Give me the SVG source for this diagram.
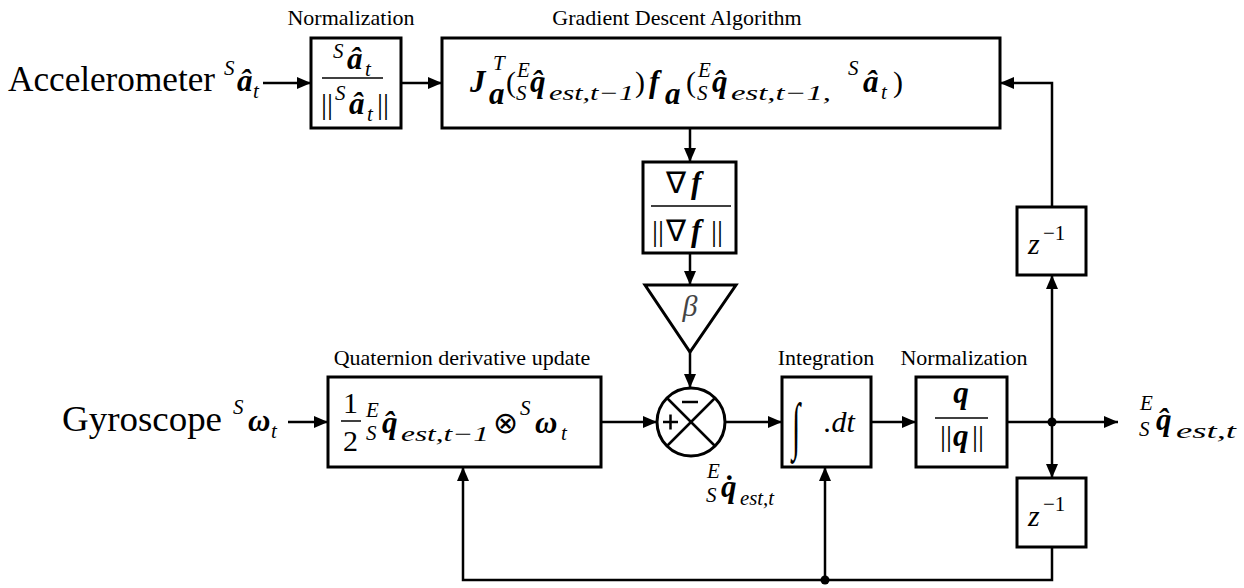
<svg xmlns="http://www.w3.org/2000/svg" width="1244" height="588" viewBox="0 0 1244 588" font-family="Liberation Serif, serif">
  <style>
    .box { fill: #fff; stroke: #000; stroke-width: 3; }
    .wire { fill: none; stroke: #000; stroke-width: 2.5; }
    .bar { stroke: #000; stroke-width: 1.5; }
    text { fill: #000; font-family: "Liberation Serif", serif; }
    .lbl { font-size: 22px; text-anchor: middle; }
    .big { font-size: 36px; }
    .m { font-size: 30px; font-style: italic; }
    .r { font-size: 30px; }
    .b { font-size: 31px; font-style: italic; font-weight: bold; }
    .s { font-size: 21px; font-style: italic; }
    .sr { font-size: 21px; }
  </style>
  <defs>
    <marker id="arrow" markerUnits="userSpaceOnUse" markerWidth="14" markerHeight="12" viewBox="0 0 14 12" refX="14" refY="6" orient="auto">
      <path d="M0,0 L14,6 L0,12 z" fill="#000"/>
    </marker>
  </defs>

  <!-- signal inputs -->
  <g id="accel-input">
    <text class="big" x="8" y="91" textLength="207" lengthAdjust="spacingAndGlyphs">Accelerometer</text>
    <text class="s" x="224" y="75">S</text>
    <text class="b" x="237" y="91">&#xE2;</text>
    <text class="s" x="253" y="98">t</text>
  </g>
  <g id="gyro-input">
    <text class="big" x="62" y="431" textLength="160" lengthAdjust="spacingAndGlyphs">Gyroscope</text>
    <text class="s" x="233" y="414">S</text>
    <text class="b" x="248" y="431">ω</text>
    <text class="s" x="271" y="438">t</text>
  </g>

  <!-- accelerometer normalisation -->
  <g id="acc-norm">
    <text class="lbl" x="351" y="25">Normalization</text>
    <rect class="box" x="311" y="38" width="90" height="90"/>
    <text class="s" x="333" y="58">S</text>
    <text class="b" x="347" y="69">&#xE2;</text>
    <text class="s" x="365" y="76">t</text>
    <line class="bar" x1="322" y1="78" x2="383" y2="78"/>
    <text class="r" x="321" y="114">||</text>
    <text class="s" x="335" y="100">S</text>
    <text class="b" x="349" y="114">&#xE2;</text>
    <text class="s" x="367" y="121">t</text>
    <text class="r" x="377" y="114">||</text>
  </g>

  <!-- gradient descent step -->
  <g id="gradient">
    <text class="lbl" x="677" y="25">Gradient Descent Algorithm</text>
    <rect class="box" x="442" y="38" width="558" height="90"/>
    <text class="b" x="470" y="92">J</text>
    <text class="s" x="493" y="70">T</text>
    <text class="b" x="489" y="104" font-size="20">a</text>
    <text class="r" x="506" y="92">(</text>
    <text class="s" x="517" y="77">E</text>
    <text class="s" x="516" y="100">S</text>
    <text class="b" x="530" y="92">q&#x302;</text>
    <text class="s" x="549" y="100" textLength="85" lengthAdjust="spacingAndGlyphs">est,t−1</text>
    <text class="r" x="635" y="92">)</text>
    <text class="b" x="649" y="92">f</text>
    <text class="b" x="665" y="104" font-size="20">a</text>
    <text class="r" x="686" y="92">(</text>
    <text class="s" x="698" y="77">E</text>
    <text class="s" x="697" y="100">S</text>
    <text class="b" x="712" y="92">q&#x302;</text>
    <text class="s" x="731" y="100" textLength="100" lengthAdjust="spacingAndGlyphs">est,t−1,</text>
    <text class="s" x="848" y="75">S</text>
    <text class="b" x="863" y="92">&#xE2;</text>
    <text class="s" x="881" y="99">t</text>
    <text class="r" x="893" y="92">)</text>
  </g>

  <!-- normalised gradient -->
  <g id="grad-norm">
    <rect class="box" x="643" y="162" width="93" height="91"/>
    <text class="r" x="666" y="193">∇</text>
    <text class="b" x="691" y="193">f</text>
    <line class="bar" x1="651" y1="206" x2="731" y2="206"/>
    <text class="r" x="652" y="241">||</text>
    <text class="r" x="666" y="241">∇</text>
    <text class="b" x="691" y="241">f</text>
    <text class="r" x="711" y="241">||</text>
  </g>

  <!-- gain -->
  <g id="beta">
    <polygon class="box" points="645,285 736,285 690,352"/>
    <text class="m" x="690" y="316" text-anchor="middle" style="fill:#444">β</text>
  </g>

  <!-- quaternion rate from gyroscope -->
  <g id="quat-derivative">
    <text class="lbl" x="462" y="365">Quaternion derivative update</text>
    <rect class="box" x="328" y="377" width="273" height="90"/>
    <text class="r" x="343" y="413">1</text>
    <line class="bar" x1="341" y1="421" x2="361" y2="421"/>
    <text class="r" x="343" y="451">2</text>
    <text class="s" x="366" y="417">E</text>
    <text class="s" x="366" y="440">S</text>
    <text class="b" x="382" y="433">q&#x302;</text>
    <text class="s" x="401" y="441" textLength="88" lengthAdjust="spacingAndGlyphs">est,t−1</text>
    <text class="r" x="493" y="433">⊗</text>
    <text class="s" x="520" y="415">S</text>
    <text class="b" x="535" y="433">ω</text>
    <text class="s" x="561" y="440">t</text>
  </g>

  <!-- summing junction -->
  <g id="sum">
    <circle class="box" cx="691" cy="422" r="34"/>
    <line x1="667" y1="398" x2="715" y2="446" stroke="#000" stroke-width="2.5"/>
    <line x1="715" y1="398" x2="667" y2="446" stroke="#000" stroke-width="2.5"/>
    <line x1="682" y1="402" x2="698" y2="402" stroke="#000" stroke-width="2.5"/>
    <line x1="663" y1="422" x2="678" y2="422" stroke="#000" stroke-width="2.5"/>
    <line x1="670.5" y1="414.5" x2="670.5" y2="429.5" stroke="#000" stroke-width="2.5"/>
  </g>
  <g id="qdot-label">
    <text class="s" x="707" y="478">E</text>
    <text class="s" x="706" y="502">S</text>
    <text class="b" x="721" y="497">q&#x307;</text>
    <text class="s" x="740" y="505" textLength="34" lengthAdjust="spacingAndGlyphs">est,t</text>
  </g>

  <!-- integrator -->
  <g id="integrate">
    <text class="lbl" x="826" y="365">Integration</text>
    <rect class="box" x="782" y="377" width="89" height="90"/>
    <text class="r" x="0" y="0" font-size="40" transform="translate(792,447) scale(1,2.1)">∫</text>
    <text class="m" x="824" y="432">.dt</text>
  </g>

  <!-- quaternion normalisation -->
  <g id="quat-norm">
    <text class="lbl" x="964" y="365">Normalization</text>
    <rect class="box" x="916" y="377" width="91" height="90"/>
    <text class="b" x="961" y="403" text-anchor="middle">q</text>
    <line class="bar" x1="935" y1="418" x2="988" y2="418"/>
    <text class="r" x="940" y="446">||</text>
    <text class="b" x="953" y="446">q</text>
    <text class="r" x="972" y="446">||</text>
  </g>

  <!-- unit delays -->
  <g id="delay-upper">
    <rect class="box" x="1017" y="207" width="69" height="68"/>
    <text class="m" x="1028" y="254">z</text>
    <text class="sr" x="1043" y="240">−1</text>
  </g>
  <g id="delay-lower">
    <rect class="box" x="1017" y="478" width="69" height="69"/>
    <text class="m" x="1028" y="526">z</text>
    <text class="sr" x="1043" y="511">−1</text>
  </g>

  <!-- output -->
  <g id="output">
    <text class="s" x="1140" y="410">E</text>
    <text class="s" x="1139" y="436">S</text>
    <text class="b" x="1156" y="430">q&#x302;</text>
    <text class="s" x="1176" y="438" textLength="60" lengthAdjust="spacingAndGlyphs">est,t</text>
  </g>

  <!-- signal flow -->
  <g id="connectors" class="wire">
    <path d="M263,83 H311" marker-end="url(#arrow)"/>
    <path d="M401,83 H442" marker-end="url(#arrow)"/>
    <path d="M690,128 V162" marker-end="url(#arrow)"/>
    <path d="M690,253 V285" marker-end="url(#arrow)"/>
    <path d="M690,352 V388" marker-end="url(#arrow)"/>
    <path d="M288,422 H328" marker-end="url(#arrow)"/>
    <path d="M601,422 H657" marker-end="url(#arrow)"/>
    <path d="M725,422 H782" marker-end="url(#arrow)"/>
    <path d="M871,422 H916" marker-end="url(#arrow)"/>
    <path d="M1007,422 H1118" marker-end="url(#arrow)"/>
    <path d="M1052,422 V275" marker-end="url(#arrow)"/>
    <path d="M1052,207 V83 H1000" marker-end="url(#arrow)"/>
    <path d="M1052,422 V478" marker-end="url(#arrow)"/>
    <path d="M1052,547 V580 H463 V467" marker-end="url(#arrow)"/>
    <path d="M825,580 V467" marker-end="url(#arrow)"/>
    <circle cx="1052" cy="422" r="4.5" fill="#000" stroke="none"/>
    <circle cx="825" cy="580" r="4.5" fill="#000" stroke="none"/>
  </g>
</svg>
